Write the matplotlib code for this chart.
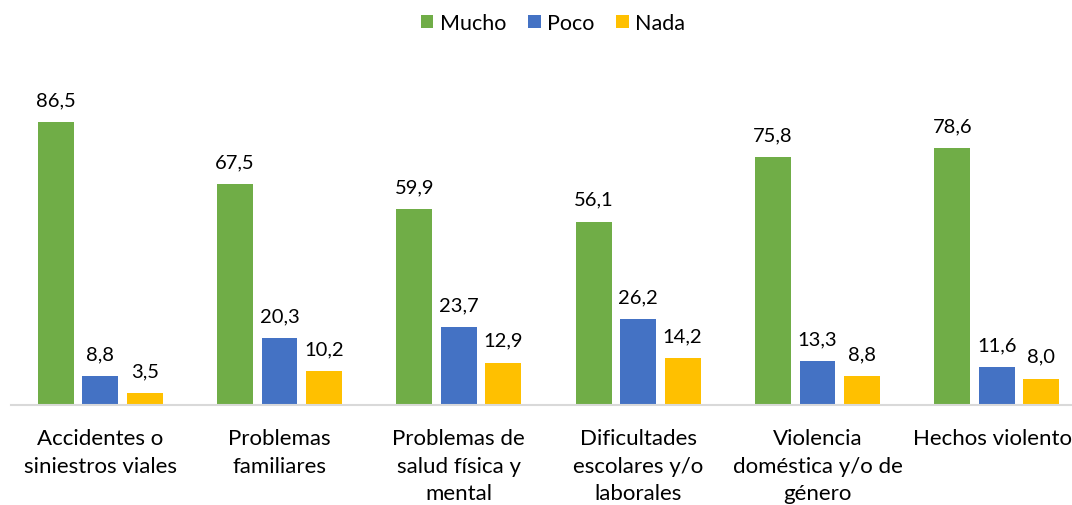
import numpy as np
import matplotlib.pyplot as plt

# datos
categorias = [
    "Accidentes o\nsiniestros viales",
    "Problemas\nfamiliares",
    "Problemas de\nsalud física y\nmental",
    "Dificultades\nescolares y/o\nlaborales",
    "Violencia\ndoméstica y/o de\ngénero",
    "Hechos violentos",
]
mucho = [86.5, 67.5, 59.9, 56.1, 75.8, 78.6]
poco = [8.8, 20.3, 23.7, 26.2, 13.3, 11.6]
nada = [3.5, 10.2, 12.9, 14.2, 8.8, 8.0]

series = [("Mucho", mucho, "#70AD47"),
          ("Poco", poco, "#4472C4"),
          ("Nada", nada, "#FFC000")]

plt.rcParams['font.family'] = ['Lato', 'DejaVu Sans']

fig = plt.figure(figsize=(10.72, 5.06), dpi=100)
# el gráfico original está recortado a la derecha
ax = fig.add_axes([10.5 / 1072, 100.3 / 506, 1076 / 1072, 329 / 506])

x = np.arange(len(categorias))
ancho = 0.2
paso = 0.248

for i, (nombre, vals, color) in enumerate(series):
    pos = x + (i - 1) * paso
    barras = ax.bar(pos, vals, width=ancho, color=color, label=nombre)
    for b, v in zip(barras, vals):
        ax.annotate(f"{v:.1f}".replace(".", ","),
                    (b.get_x() + b.get_width() / 2, v),
                    xytext=(0, 10), textcoords="offset points",
                    ha="center", va="bottom", fontsize=14.5, color="#000000")

ax.set_xlim(-0.5, len(categorias) - 0.5)
ax.set_ylim(0, 100.8)
ax.set_xticks(x)
ax.set_xticklabels(categorias, fontsize=16, linespacing=1.45, va="top")
ax.tick_params(axis="x", length=0, pad=17)
ax.set_yticks([])
for s in ["top", "right", "left"]:
    ax.spines[s].set_visible(False)
ax.spines["bottom"].set_color("#D9D9D9")
ax.spines["bottom"].set_linewidth(1.5)

fig.legend(loc="center", bbox_to_anchor=(553 / 1072, 1 - 24 / 506), ncol=3,
           frameon=False, fontsize=15.5, handlelength=0.6, handleheight=0.6,
           handletextpad=0.3, columnspacing=1.0)

fig.savefig("out.png", dpi=100)
